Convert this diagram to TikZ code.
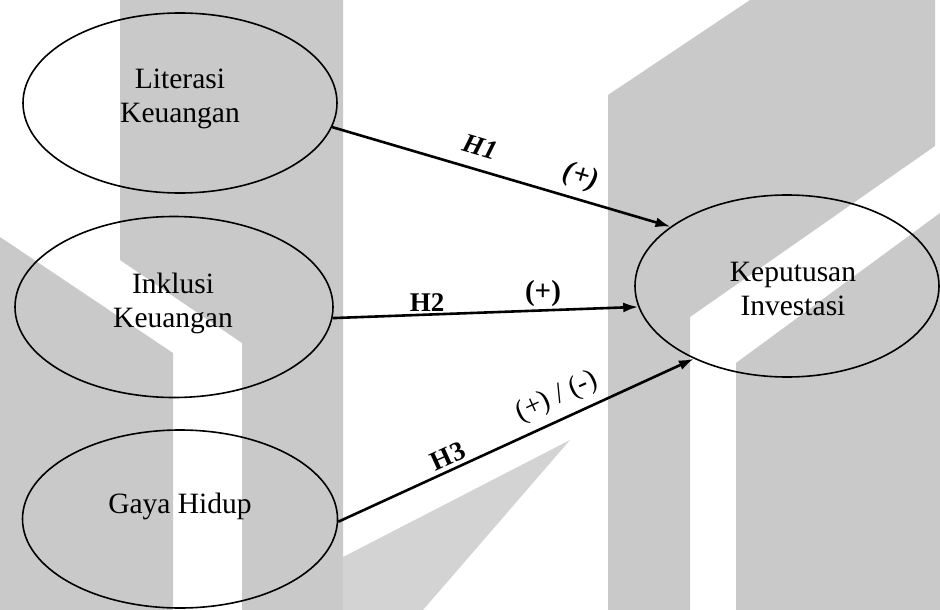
\documentclass[tikz,border=0pt]{standalone}
\usepackage{fontspec}
\setmainfont{Liberation Serif}
\usetikzlibrary{shapes.geometric,arrows.meta}
\definecolor{wmgray}{RGB}{201,201,201}
\definecolor{wmlight}{RGB}{211,211,211}
\begin{document}
\begin{tikzpicture}[x=1pt,y=-1pt,
  var/.style={ellipse, draw, line width=1.6pt, inner sep=0pt},
  lbl/.style={font=\fontsize{29.5}{34}\selectfont, align=center, inner sep=0pt},
  hyp/.style={font=\fontsize{27}{30}\selectfont\bfseries, inner sep=0pt},
  sgn/.style={font=\fontsize{29}{32}\selectfont, inner sep=0pt},
  link/.style={line width=2.6pt, -{Latex[length=15pt,width=10pt]}}
]
\useasboundingbox (0,0) rectangle (940,610);
\fill[white] (0,0) rectangle (940,610);

% background emblem
\fill[wmgray] (120,0) -- (343,0) -- (343,610) -- (242,610) -- (242,343) -- (120,260) -- cycle;
\fill[wmgray] (0,237) -- (173,353) -- (173,610) -- (0,610) -- cycle;
\fill[wmgray] (608,95) -- (750,0) -- (935,0) -- (935,146) -- (690,317) -- (690,610) -- (608,610) -- cycle;
\fill[wmgray] (736,363) -- (940,213) -- (940,610) -- (736,610) -- cycle;
\fill[wmlight] (343,557) -- (570,440) -- (423,610) -- (343,610) -- cycle;

% constructs
\node[var, minimum width=314pt, minimum height=180pt] (lit) at (180,103) {};
\node[var, minimum width=318pt, minimum height=181pt] (ink) at (174,307) {};
\node[var, minimum width=315pt, minimum height=178pt] (gaya) at (180,519) {};
\node[var, minimum width=304pt, minimum height=182pt] (kep) at (787,286) {};

\node[lbl] (litT) at (180,98.7) {Literasi\\Keuangan};
\node[lbl] (inkT) at (173,303) {Inklusi\\Keuangan};
\node[lbl] (gayaT) at (180,506) {Gaya Hidup};
\node[lbl] (kepT) at (793,288.7) {Keputusan\\Investasi};

% hypothesised paths
\draw[link] (lit.-9.3) -- (kep.153.8);
\draw[link] (ink.-4.8) -- (kep.188.3);
\draw[link] (gaya.-1) -- (kep.218.7);

% path labels
\node[hyp, font=\fontsize{27}{30}\selectfont\bfseries\itshape, rotate=-16.5] (h1) at (480,147) {H1};
\node[sgn, font=\fontsize{29}{32}\selectfont\bfseries\itshape, rotate=-16.5] (s1) at (581,177) {(+)};
\node[hyp] (h2) at (427,302.5) {H2};
\node[sgn, font=\fontsize{29}{32}\selectfont\bfseries] (s2) at (543,293.4) {(+)};
\node[hyp, rotate=24.5] (h3) at (448,456) {H3};
\node[sgn, rotate=24.5] (s3) at (557,397) {(+) / (-)};
\end{tikzpicture}
\end{document}
